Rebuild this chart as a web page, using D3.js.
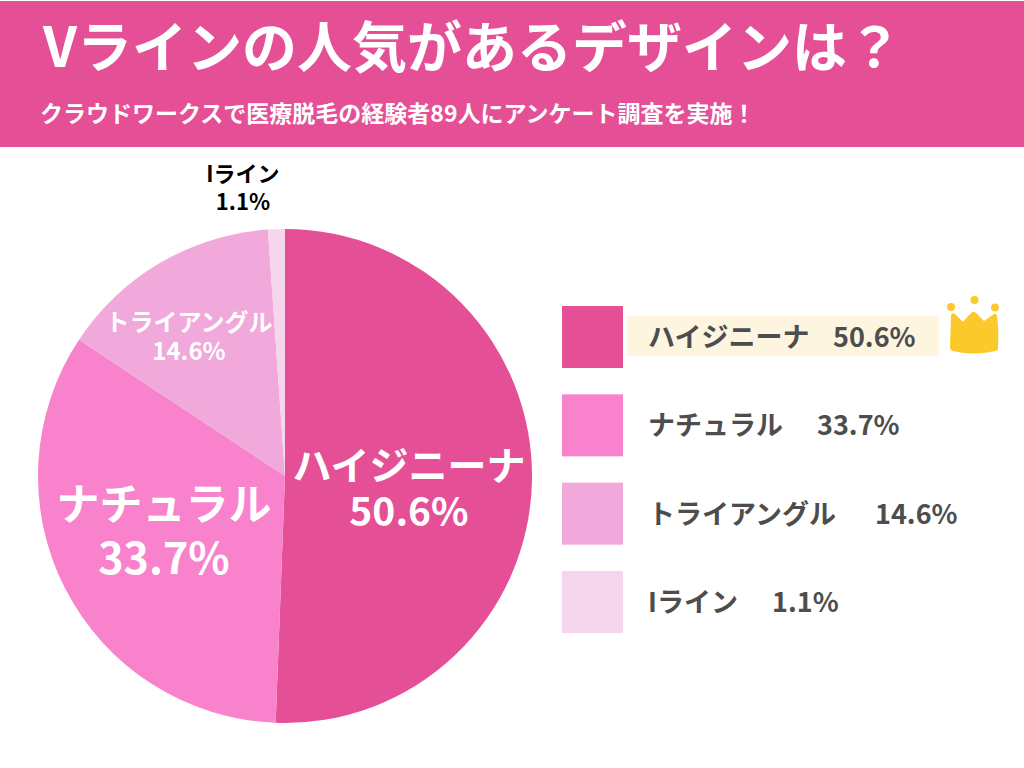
<!DOCTYPE html>
<html>
<head>
<meta charset="utf-8">
<script src="https://cdn.jsdelivr.net/npm/d3@7"></script>
<style>
html, body { margin: 0; padding: 0; background: #fff; }
svg { display: block; }
text { font-family: "Noto Sans CJK JP", sans-serif; font-weight: 700; }
</style>
</head>
<body>
<div id="chart"></div>
<script>
var categories = ["ハイジニーナ", "ナチュラル", "トライアングル", "Iライン"];
var values = [50.6, 33.7, 14.6, 1.1];
var colors = ["#e54f96", "#f982cd", "#f0a9da", "#f6d6ec"];

var titleText = "Vラインの人気があるデザインは？";
var subtitleText = "クラウドワークスで医療脱毛の経験者89人にアンケート調査を実施！";

var width = 1024, height = 768;

var svg = d3.select("#chart")
  .append("svg")
	.attr("width", width)
	.attr("height", height);

// header band
svg.append("rect")
	.attr("x", 0)
	.attr("y", 1)
	.attr("width", width)
	.attr("height", 146)
	.attr("fill", "#e54f96");

svg.append("text")
	.attr("x", 43)
	.attr("y", 67)
	.attr("font-size", 55)
	.attr("fill", "#fff")
	.text(titleText);

svg.append("text")
	.attr("x", 40)
	.attr("y", 122)
	.attr("font-size", 23)
	.attr("fill", "#fff")
	.text(subtitleText);

// pie
var cx = 285, cy = 476, radius = 247;

var pie = d3.pie().sort(null).value(function (d) { return d; });
var arc = d3.arc().innerRadius(0).outerRadius(radius);

var g = svg.append("g")
	.attr("transform", "translate(" + cx + "," + cy + ")");

g.selectAll("path")
	.data(pie(values))
	.enter()
	.append("path")
	.attr("d", arc)
	.attr("fill", function (d, i) { return colors[i]; });

// pie labels, placed per slice
var labelStyle = [
	{x: 409, y1: 480, y2: 526, size: 39, fill: "#fff"},
	{x: 164, y1: 520, y2: 574, size: 43, fill: "#fff"},
	{x: 189, y1: 331, y2: 360, size: 24, fill: "#fff"},
	{x: 243, y1: 182, y2: 210, size: 22, fill: "#000"}
];

labelStyle.forEach(function (s, i) {
	var t = svg.append("text")
		.attr("text-anchor", "middle")
		.attr("font-size", s.size)
		.attr("fill", s.fill);
	t.append("tspan").attr("x", s.x).attr("y", s.y1).text(categories[i]);
	t.append("tspan").attr("x", s.x).attr("y", s.y2).text(values[i].toFixed(1) + "%");
});

// legend
var legendY = d3.scalePoint()
	.domain(categories)
	.range([337, 602]);

// highlight behind the first row
svg.append("rect")
	.attr("x", 627)
	.attr("y", 316)
	.attr("width", 312)
	.attr("height", 40)
	.attr("fill", "#fdf5df");

svg.selectAll("rect.swatch")
	.data(categories)
	.enter()
	.append("rect")
	.attr("class", "swatch")
	.attr("x", 562)
	.attr("y", function (d) { return legendY(d) - 31; })
	.attr("width", 61)
	.attr("height", 62)
	.attr("fill", function (d, i) { return colors[i]; });

var gapX = [833, 817, 875, 772];

categories.forEach(function (c, i) {
	svg.append("text")
		.attr("x", 648)
		.attr("y", legendY(c) + 10)
		.attr("font-size", 27)
		.attr("fill", "#4d4d4d")
		.text(c);
	svg.append("text")
		.attr("x", gapX[i])
		.attr("y", legendY(c) + 10)
		.attr("font-size", 27)
		.attr("fill", "#4d4d4d")
		.text(values[i].toFixed(1) + "%");
});

// crown
var crown = svg.append("g").attr("fill", "#fbc92c");
crown.append("path")
	.attr("d", "M951 315 Q952 312 955 314 L963 322 Q968 316 972 312 Q974 311 976 313 L984 321 L994 314 Q997 313 997 316 Q999 330 998 348 Q998 351 995 351 Q973 356 953 351 Q950 350 950 347 Z");
crown.selectAll("circle")
	.data([[951, 307], [974.5, 300], [995, 307.5]])
	.enter()
	.append("circle")
	.attr("cx", function (d) { return d[0]; })
	.attr("cy", function (d) { return d[1]; })
	.attr("r", 4);
</script>
</body>
</html>
